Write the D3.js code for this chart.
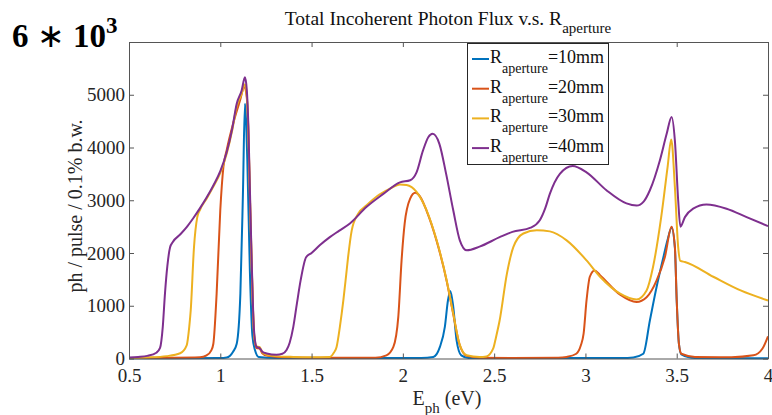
<!DOCTYPE html>
<html><head><meta charset="utf-8">
<script src="https://cdn.jsdelivr.net/npm/d3@7"></script>
<style>
html,body{margin:0;padding:0;background:#fff;}
svg{display:block;}
text{font-family:"Liberation Serif","Times New Roman",serif;}
</style></head>
<body><svg id="c" width="772" height="415"></svg>
<script>
// ---- data ----
const xTicks = [0.5,1,1.5,2,2.5,3,3.5,4];
const xTickLabels = ["0.5","1","1.5","2","2.5","3","3.5","4"];
const yTicks = [0,1000,2000,3000,4000,5000];
const yTickLabels = ["0","1000","2000","3000","4000","5000"];
const seriesNames = ["=10mm","=20mm","=30mm","=40mm"];
const seriesColors = ["#0072BD","#D95319","#EDB120","#7E2F8E"];

const e10 = [0.5,1.0,1.035,1.07,1.09,1.11,1.124,1.135,1.148,1.162,1.176,1.19,1.21,1.3,2.1,2.167,2.203,2.23,2.247,2.26,2.276,2.294,2.32,2.36,3.2,3.262,3.317,3.353,3.39,3.427,3.45,3.472,3.49,3.5,3.512,3.525,3.6,4.0];
const f10 = [5,10,20,130,280,1230,3120,4830,3760,1670,430,160,30,10,10,30,220,600,1100,1280,980,350,60,10,10,20,90,720,1360,1920,2250,2480,2100,1100,280,80,10,5];

const e20 = [0.5,0.7,0.889,0.925,0.95,0.962,0.98,1.0,1.017,1.035,1.07,1.108,1.131,1.145,1.154,1.163,1.172,1.18,1.186,1.199,1.215,1.23,1.26,1.35,1.6,1.85,1.91,1.948,1.975,1.993,2.01,2.04,2.068,2.096,2.13,2.185,2.24,2.276,2.31,2.35,2.42,2.6,2.85,2.897,2.95,2.975,2.99,3.006,3.024,3.05,3.08,3.19,3.28,3.335,3.39,3.435,3.472,3.49,3.5,3.512,3.525,3.6,3.8,3.92,3.97,4.0];
const f20 = [10,15,25,60,150,280,1230,2810,3630,3950,4450,4890,5140,4950,4250,2950,1750,820,400,200,190,100,50,25,15,15,60,220,790,1860,2560,3030,3140,3060,2800,2230,1470,840,270,50,15,10,15,30,90,250,470,1100,1550,1670,1580,1210,1070,1160,1480,1920,2500,2110,1100,280,90,30,25,60,190,420];

const e30 = [0.5,0.6,0.706,0.78,0.816,0.83,0.838,0.856,0.874,0.889,0.925,0.962,1.0,1.035,1.065,1.09,1.117,1.135,1.145,1.154,1.163,1.172,1.18,1.186,1.199,1.215,1.23,1.254,1.3,1.4,1.5,1.6,1.62,1.637,1.655,1.674,1.69,1.7,1.72,1.756,1.8,1.86,1.93,1.984,2.02,2.075,2.13,2.185,2.24,2.276,2.31,2.35,2.42,2.458,2.495,2.51,2.53,2.57,2.605,2.66,2.733,2.805,2.897,3.006,3.08,3.19,3.28,3.335,3.37,3.415,3.45,3.47,3.49,3.508,3.52,3.545,3.7,3.85,4.0];
const f30 = [10,20,45,100,250,600,910,2110,2680,2820,3030,3260,3520,3880,4320,4780,5020,5200,5000,4300,3000,1800,850,430,230,220,120,70,45,30,25,30,100,220,600,1100,1600,1920,2430,2750,2900,3080,3220,3300,3290,3160,2810,2240,1480,850,280,60,30,40,190,400,720,1610,2110,2370,2430,2410,2240,1860,1550,1230,1120,1290,1730,2680,3630,4150,3250,2110,1850,1830,1550,1290,1100];

const e40 = [0.5,0.55,0.6,0.65,0.67,0.685,0.697,0.71,0.725,0.74,0.78,0.816,0.85,0.889,0.925,0.962,1.0,1.035,1.065,1.09,1.117,1.135,1.145,1.154,1.163,1.172,1.18,1.186,1.199,1.215,1.23,1.254,1.308,1.34,1.363,1.38,1.4,1.42,1.44,1.47,1.5,1.546,1.6,1.65,1.71,1.8,1.893,1.984,2.04,2.075,2.11,2.14,2.163,2.2,2.237,2.276,2.312,2.35,2.42,2.53,2.6,2.7,2.75,2.78,2.805,2.86,2.93,3.006,3.115,3.225,3.28,3.32,3.353,3.408,3.445,3.472,3.49,3.508,3.52,3.545,3.59,3.663,3.773,3.883,4.0];
const f40 = [20,30,50,110,200,600,1230,1750,2110,2210,2350,2490,2650,2850,3050,3280,3550,3910,4350,4830,5080,5330,5100,4390,3100,1860,900,480,220,200,130,95,70,90,160,300,600,1050,1480,1920,2000,2150,2300,2420,2560,2870,3120,3340,3380,3530,3940,4200,4260,4070,3500,2810,2240,2050,2120,2300,2400,2480,2620,2850,3120,3500,3650,3530,3190,2940,2900,2980,3190,3760,4260,4580,4130,3000,2500,2680,2840,2920,2840,2680,2510];

const energies = [e10,e20,e30,e40];
const fluxes = [f10,f20,f30,f40];

// ---- layout ----
const svg = d3.select("#c");
const L = 129, R = 768, T = 42, B = 358.5;
const x = d3.scaleLinear().domain([0.5,4]).range([L,R]);
const y = d3.scaleLinear().domain([0,6000]).range([B,T]);
const axisCol = "#262626";

// lines
const line = d3.line().x(d=>x(d[0])).y(d=>y(d[1])).curve(d3.curveMonotoneX);
energies.forEach((es,i)=>{
  const pts = es.map((e,j)=>[e,fluxes[i][j]]);
  svg.append("path").attr("d",line(pts)).attr("fill","none")
    .attr("stroke",seriesColors[i]).attr("stroke-width",2).attr("stroke-linejoin","round");
});

// axes
const tl = 5;
const gx = svg.append("g").attr("transform",`translate(0,${B})`)
  .call(d3.axisBottom(x).tickValues(xTicks).tickFormat((d,i)=>xTickLabels[i]).tickSizeInner(-tl).tickSizeOuter(0).tickPadding(10));
const gxt = svg.append("g").attr("transform",`translate(0,${T})`)
  .call(d3.axisTop(x).tickValues(xTicks).tickFormat("").tickSizeInner(-tl).tickSizeOuter(0));
const gy = svg.append("g").attr("transform",`translate(${L},0)`)
  .call(d3.axisLeft(y).tickValues(yTicks).tickFormat((d,i)=>yTickLabels[i]).tickSizeInner(-tl).tickSizeOuter(0).tickPadding(4));
const gyr = svg.append("g").attr("transform",`translate(${R},0)`)
  .call(d3.axisRight(y).tickValues(yTicks.concat([6000])).tickFormat("").tickSizeInner(-tl).tickSizeOuter(0));
[gx,gxt,gy,gyr].forEach(g=>{
  g.select(".domain").attr("stroke","#555").attr("stroke-width",1);
  g.selectAll(".tick line").attr("stroke","#555");
  g.selectAll(".tick text").attr("fill",axisCol).style("font-size","19px").style("font-family","Liberation Serif");
});

// title
const title = svg.append("text").attr("x",448).attr("y",25).attr("text-anchor","middle")
  .attr("fill","#111").style("font-size","19.5px");
title.append("tspan").text("Total Incoherent Photon Flux v.s. R");
title.append("tspan").attr("dy",8).style("font-size","15px").text("aperture");

// x label
const xl = svg.append("text").attr("x",447).attr("y",405).attr("text-anchor","middle")
  .attr("fill",axisCol).style("font-size","20px");
xl.append("tspan").text("E");
xl.append("tspan").attr("dy",8).style("font-size","15px").text("ph");
xl.append("tspan").attr("dy",-8).text(" (eV)");

// y label
svg.append("text").attr("transform","translate(82,206) rotate(-90)").attr("text-anchor","middle")
  .attr("fill",axisCol).style("font-size","20px").text("ph  / pulse / 0.1% b.w.");

// 6 * 10^3
const ex = svg.append("text").attr("x",12).attr("y",47).attr("fill","#000")
  .style("font-size","33px").style("font-weight","bold");
ex.append("tspan").text("6 ");
ex.append("tspan").style("font-weight","normal").text("\u2217");
ex.append("tspan").text(" 10");
ex.append("tspan").attr("dy",-14).style("font-size","23px").text("3");

// legend
const lg = svg.append("g");
lg.append("rect").attr("x",467.5).attr("y",43.5).attr("width",141).attr("height",121)
  .attr("fill","#fff").attr("stroke","#262626").attr("stroke-width",1);
seriesNames.forEach((n,i)=>{
  const by = 63 + i*29.7;
  lg.append("line").attr("x1",472).attr("x2",489).attr("y1",by-4).attr("y2",by-4)
    .attr("stroke",seriesColors[i]).attr("stroke-width",2);
  const t = lg.append("text").attr("x",490).attr("y",by).attr("fill","#111").style("font-size","18px");
  t.append("tspan").text("R");
  t.append("tspan").attr("dy",10).style("font-size","14px").text("aperture");
  t.append("tspan").attr("dy",-10).text(n);
});
</script></body></html>
